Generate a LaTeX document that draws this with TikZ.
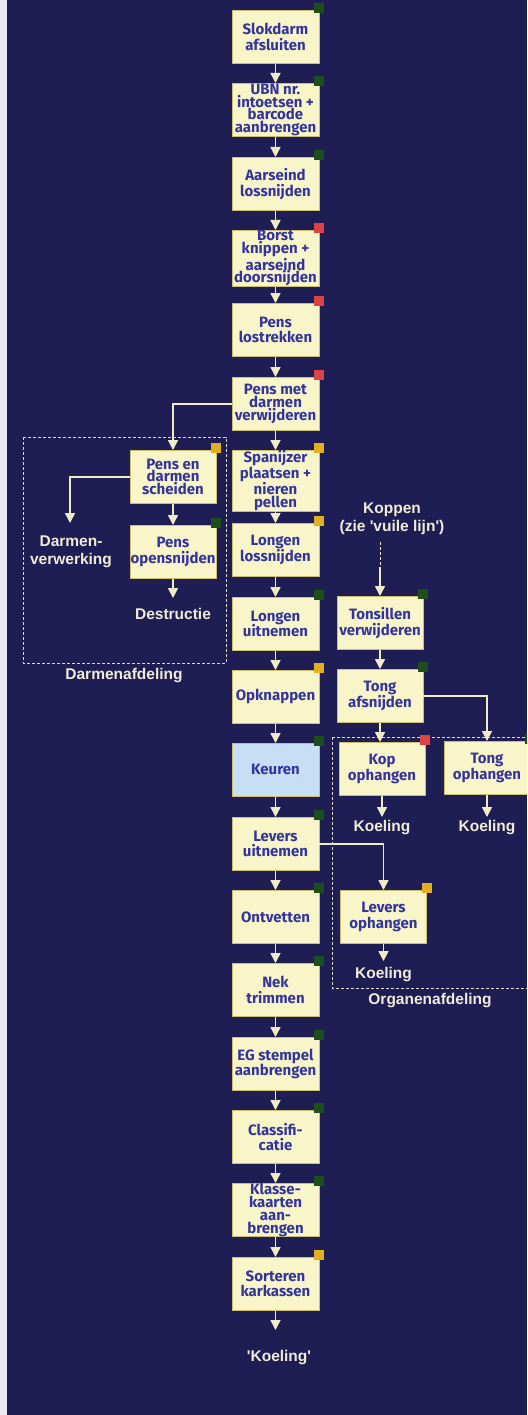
\documentclass[tikz,border=0pt]{standalone}
\usepackage{fontspec}
\setmainfont{Fira Sans}
\newfontfamily\labfont{Liberation Sans}
\usetikzlibrary{arrows.meta}

\definecolor{navy}{RGB}{30,30,84}
\definecolor{edgestrip}{RGB}{232,234,240}
\definecolor{boxfill}{RGB}{248,245,200}
\definecolor{boxedge}{RGB}{205,190,110}
\definecolor{boxtext}{RGB}{52,52,158}
\definecolor{checkfill}{RGB}{200,222,245}
\definecolor{flowline}{RGB}{240,236,200}
\definecolor{cream}{RGB}{240,236,215}
\definecolor{tagG}{RGB}{30,78,26}
\definecolor{tagR}{RGB}{218,68,68}
\definecolor{tagY}{RGB}{224,176,32}

% one process step with its coloured tag at the upper right corner
\newcommand\procbox[6][]{%
  \node[stepbox,#1] (#2) at (#3,#4) {#6};
  \fill[#5] ([shift={(-5,-7)}]#2.north east) rectangle ++(10,10);
}

\begin{document}
\begin{tikzpicture}[x=1pt,y=-1pt,
  stepbox/.style={draw=boxedge, line width=0.8pt, fill=boxfill, text=boxtext,
    minimum width=87pt, minimum height=53pt, inner sep=0pt, align=center,
    anchor=north, font=\fontsize{15}{15.5}\selectfont\bfseries},
  tight/.style={font=\fontsize{15}{12.8}\selectfont\bfseries},
  narrow/.style={minimum width=86pt},
  flow/.style={draw=flowline, line width=1.5pt, -{Triangle[width=10pt,length=10pt]}},
  whitetext/.style={text=cream, align=center,
    font=\labfont\fontsize{15.5}{18}\selectfont\bfseries},
  frame/.style={draw=cream!85!gray, line width=1pt, dash pattern=on 3pt off 2pt}]

% background
\useasboundingbox (0,0) rectangle (527,1415);
\clip (0,0) rectangle (527,1415);
\fill[navy] (0,0) rectangle (527,1415);
\fill[edgestrip] (0,0) rectangle (7,1415);

% department frames
\draw[frame] (23,437) rectangle (226,663);
\draw[frame] (332,737) rectangle (540,988);
\node[whitetext] (darmafd) at (124,676) {Darmenafdeling};
\node[whitetext] (orgafd) at (430,1001) {Organenafdeling};

% main line
\procbox{b1}{275.5}{10}{tagG}{Slokdarm\\afsluiten}
\procbox[tight]{b2}{275.5}{83}{tagG}{UBN nr.\\intoetsen +\\barcode\\aanbrengen}
\procbox{b3}{275.5}{157}{tagG}{Aarseind\\lossnijden}
\procbox[tight]{b4}{275.5}{230}{tagR}{Borst\\knippen +\\aarseind\\doorsnijden}
\procbox{b5}{275.5}{303}{tagR}{Pens\\lostrekken}
\procbox[tight]{b6}{275.5}{377}{tagR}{Pens met\\darmen\\verwijderen}
\procbox[tight]{b7}{275.5}{450}{tagY}{Spanijzer\\plaatsen +\\nieren\\pellen}
\procbox{b8}{275.5}{523}{tagY}{Longen\\lossnijden}
\procbox{b9}{275.5}{597}{tagG}{Longen\\uitnemen}
\procbox{b10}{275.5}{670}{tagY}{Opknappen}
\procbox[fill=checkfill]{b11}{275.5}{743}{tagG}{Keuren}
\procbox{b12}{275.5}{817}{tagG}{Levers\\uitnemen}
\procbox{b13}{275.5}{890}{tagG}{Ontvetten}
\procbox{b14}{275.5}{963}{tagG}{Nek\\trimmen}
\procbox{b15}{275.5}{1037}{tagG}{EG stempel\\aanbrengen}
\procbox{b16}{275.5}{1110}{tagG}{Classifi-\\catie}
\procbox[tight]{b17}{275.5}{1183}{tagG}{Klasse-\\kaarten\\aan-\\brengen}
\procbox{b18}{275.5}{1257}{tagY}{Sorteren\\karkassen}

\foreach \a/\b in {b1/b2,b2/b3,b3/b4,b4/b5,b5/b6,b6/b7,b7/b8,b8/b9,b9/b10,
                   b10/b11,b11/b12,b12/b13,b13/b14,b14/b15,b15/b16,b16/b17,b17/b18}
  \draw[flow] (\a.south) -- (\b.north);

\coordinate (kend) at (275.5,1330);
\draw[flow] (b18.south) -- (kend);
\node[whitetext] (koelmain) at (279,1358) {'Koeling'};

% gut department
\procbox[tight,narrow]{pde}{173}{450}{tagY}{Pens en\\darmen\\scheiden}
\procbox[narrow]{pos}{173}{525}{tagG}{Pens\\opensnijden}
\draw[flow] (b6.west) -| (pde.north);
\draw[flow] (pde.south) -- (pos.north);
\coordinate (destr) at (173,598);
\draw[flow] (pos.south) -- (destr);
\node[whitetext] (destrtxt) at (173,614) {Destructie};
\coordinate (dverw) at (70,523);
\draw[flow] (pde.west) -| (dverw);
\node[whitetext] (dverwtxt) at (71,552) {Darmen-\\verwerking};

% heads
\node[whitetext] (koppen) at (392,519) {Koppen\\(zie 'vuile lijn')};
\coordinate (k1) at (380,542);
\coordinate (k2) at (380,567);
\procbox[narrow]{tons}{380}{596}{tagG}{Tonsillen\\verwijderen}
\procbox[narrow]{tonga}{380}{669}{tagG}{Tong\\afsnijden}
\draw[draw=flowline, line width=1pt, dash pattern=on 3pt off 2pt] (k1) -- (k2);
\draw[flow] (k2) -- (tons.north);
\draw[flow] (tons.south) -- (tonga.north);

% organ department
\procbox[narrow]{kop}{382}{742}{tagR}{Kop\\ophangen}
\procbox[narrow]{tongo}{487}{741}{tagG}{Tong\\ophangen}
\procbox[narrow]{lo}{383.5}{890}{tagY}{Levers\\ophangen}
\draw[flow] (tonga.south) -- (tonga.south |- kop.north);
\draw[flow] (tonga.east) -| (tongo.north);
\draw[flow] (b12.east) -| (lo.north);

\coordinate (kk) at (382,817);
\coordinate (kt) at (487,817);
\coordinate (kl) at (383.5,961);
\draw[flow] (kop.south) -- (kk);
\draw[flow] (tongo.south) -- (kt);
\draw[flow] (lo.south) -- (kl);
\node[whitetext] (koelkop) at (382,828) {Koeling};
\node[whitetext] (koeltong) at (487,828) {Koeling};
\node[whitetext] (koellev) at (383.5,975) {Koeling};
\end{tikzpicture}
\end{document}
